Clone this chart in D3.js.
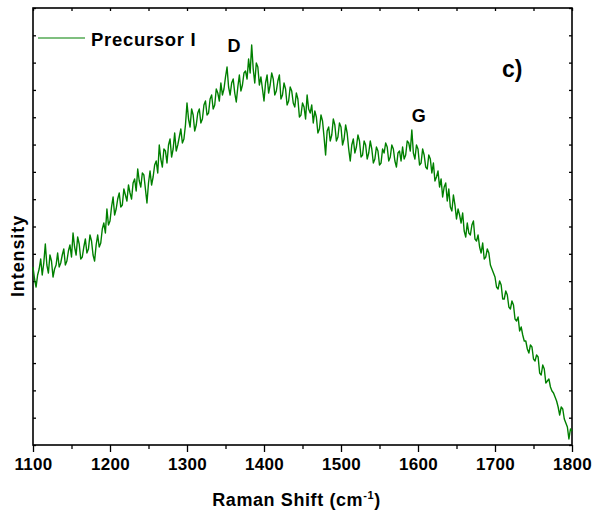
<!DOCTYPE html>
<html>
<head>
<meta charset="utf-8">
<script src="https://cdn.jsdelivr.net/npm/d3@7"></script>
<style>
  body { margin: 0; background: #fff; }
  text { font-family: "Liberation Sans", Arial, sans-serif; font-weight: bold; fill: #000; }
</style>
</head>
<body>
<div id="graphic"></div>
<script>
var width = 592;
var height = 514;
var margin = {top: 8, right: 20, bottom: 69, left: 33};

var shiftStart = 1100;
var shiftStep = 2;
var intensity = [
  178, 166, 158, 170, 176, 186, 170, 182, 201, 180, 172, 190, 184, 168, 176, 180, 192, 178, 182, 190,
  196, 180, 184, 194, 200, 188, 212, 198, 190, 208, 201, 186, 188, 198, 206, 192, 196, 210, 204, 190,
  184, 200, 210, 198, 202, 216, 222, 212, 236, 220, 224, 238, 248, 230, 236, 246, 252, 238, 240, 256,
  250, 244, 260, 252, 246, 262, 266, 254, 276, 264, 258, 272, 270, 256, 242, 262, 274, 260, 268, 280,
  284, 272, 300, 286, 278, 296, 294, 282, 300, 306, 288, 296, 312, 294, 300, 308, 316, 302, 306, 320,
  342, 326, 318, 336, 330, 314, 320, 332, 336, 322, 326, 340, 344, 330, 332, 346, 350, 336, 340, 356,
  352, 344, 362, 350, 356, 368, 378, 358, 350, 362, 366, 352, 343, 358, 370, 354, 360, 372, 374, 366,
  386, 372, 400, 376, 362, 382, 378, 360, 368, 356, 344, 362, 370, 352, 360, 372, 366, 350, 354, 364,
  370, 346, 350, 362, 356, 340, 344, 358, 354, 342, 338, 352, 346, 328, 330, 342, 338, 326, 350, 336,
  332, 340, 322, 334, 328, 312, 316, 330, 324, 308, 290, 314, 318, 304, 310, 326, 320, 304, 308, 322,
  318, 300, 306, 320, 312, 296, 284, 300, 306, 292, 298, 310, 304, 288, 290, 304, 300, 286, 292, 304,
  296, 282, 286, 298, 294, 280, 282, 296, 292, 302, 298, 284, 288, 300, 296, 284, 278, 292, 294, 284,
  298, 286, 290, 304, 302, 294, 315, 292, 286, 300, 296, 280, 282, 296, 290, 278, 276, 290, 286, 272,
  282, 264, 268, 274, 258, 266, 248, 258, 262, 244, 256, 238, 234, 250, 240, 226, 236, 230, 222, 232,
  214, 208, 222, 212, 210, 220, 224, 206, 204, 210, 198, 192, 202, 186, 188, 196, 192, 180, 176, 172,
  168, 158, 156, 164, 160, 146, 146, 154, 150, 138, 136, 144, 140, 126, 124, 128, 114, 118, 110, 104,
  104, 96, 92, 100, 98, 86, 84, 90, 88, 72, 70, 80, 76, 62, 64, 66, 58, 54, 52, 48,
  44, 38, 30, 38, 36, 26, 22, 18, 6, 16, 14
];
var xTicks = [1100, 1200, 1300, 1400, 1500, 1600, 1700, 1800];
var xMinorTicks = [1150, 1250, 1350, 1450, 1550, 1650, 1750];
var yMax = 437;
var yDivisions = 16;
var seriesName = "Precursor I";
var peakLabels = [
  {label: "D", shift: 1361, value: 389},
  {label: "G", shift: 1601, value: 319}
];

var data = intensity.map(function(v, i) {
  return {shift: shiftStart + i * shiftStep, value: v};
});

var svg = d3.select("#graphic")
  .append("svg")
  .attr("width", width)
  .attr("height", height);

var xScale = d3.scaleLinear()
  .domain([1100, 1800])
  .range([margin.left, width - margin.right]);

var yScale = d3.scaleLinear()
  .domain([0, yMax])
  .range([height - margin.bottom, margin.top]);

var yTickValues = d3.range(0, yDivisions + 1).map(function(i) { return i * yMax / yDivisions; });

// bottom axis, outward ticks
svg.append("g")
  .attr("transform", "translate(0," + (height - margin.bottom) + ")")
  .call(d3.axisBottom(xScale).tickValues(xMinorTicks).tickSize(4).tickFormat(""))
  .call(g => g.select(".domain").remove());

svg.append("g")
  .attr("class", "x-axis")
  .attr("transform", "translate(0," + (height - margin.bottom) + ")")
  .call(d3.axisBottom(xScale).tickValues(xTicks).tickSize(7).tickSizeOuter(0).tickPadding(6).tickFormat(d3.format("d")))
  .call(g => g.select(".domain").remove())
  .call(g => g.selectAll("text")
    .style("font-size", "17px")
    .style("letter-spacing", "0.3px")
    .attr("fill", "#000"));

// top axis, inward ticks
svg.append("g")
  .attr("transform", "translate(0," + margin.top + ")")
  .call(d3.axisBottom(xScale).tickValues(xTicks.concat(xMinorTicks)).tickSize(3).tickFormat(""))
  .call(g => g.select(".domain").remove());

// left and right axes, inward ticks
svg.append("g")
  .attr("transform", "translate(" + margin.left + ",0)")
  .call(d3.axisRight(yScale).tickValues(yTickValues).tickSize(3).tickFormat(""))
  .call(g => g.select(".domain").remove());

svg.append("g")
  .attr("transform", "translate(" + (width - margin.right) + ",0)")
  .call(d3.axisLeft(yScale).tickValues(yTickValues).tickSize(3).tickFormat(""))
  .call(g => g.select(".domain").remove());

svg.selectAll(".tick line")
  .attr("stroke", "#000")
  .attr("stroke-width", 1.3);

// frame
svg.append("rect")
  .attr("x", xScale(1100))
  .attr("y", yScale(yMax))
  .attr("width", xScale(1800) - xScale(1100))
  .attr("height", yScale(0) - yScale(yMax))
  .attr("fill", "none")
  .attr("stroke", "#000")
  .attr("stroke-width", 1.6);

// spectrum
svg.append("path")
  .datum(data)
  .attr("fill", "none")
  .attr("stroke", "#008000")
  .attr("stroke-width", 1.4)
  .attr("stroke-linejoin", "round")
  .attr("d", d3.line()
    .x(d => xScale(d.shift))
    .y(d => yScale(d.value)));

// axis titles
var xTitle = svg.append("text")
  .attr("x", (xScale(1100) + xScale(1800)) / 2 - 6)
  .attr("y", 506)
  .attr("text-anchor", "middle")
  .style("font-size", "18px")
  .style("letter-spacing", "0.6px");
xTitle.append("tspan").text("Raman Shift (cm");
xTitle.append("tspan").attr("dy", -7).style("font-size", "11px").text("-1");
xTitle.append("tspan").attr("dy", 7).text(")");

svg.append("text")
  .attr("transform", "translate(24," + 256 + ") rotate(-90)")
  .attr("text-anchor", "middle")
  .style("font-size", "18px")
  .style("letter-spacing", "0.9px")
  .text("Intensity");

// legend
svg.append("line")
  .attr("x1", 38).attr("x2", 85)
  .attr("y1", 38).attr("y2", 38)
  .attr("stroke", "#008000")
  .attr("stroke-width", 1.2);

svg.append("text")
  .attr("x", 91)
  .attr("y", 45.5)
  .style("font-size", "18.5px")
  .style("letter-spacing", "0.7px")
  .text(seriesName);

// peak labels
svg.selectAll(".peak")
  .data(peakLabels)
  .join("text")
  .attr("class", "peak")
  .attr("x", d => xScale(d.shift))
  .attr("y", d => yScale(d.value) - 4)
  .attr("text-anchor", "middle")
  .style("font-size", "18px")
  .text(d => d.label);

svg.append("text")
  .attr("x", 502)
  .attr("y", 77)
  .style("font-size", "23px")
  .text("c)");
</script>
</body>
</html>
